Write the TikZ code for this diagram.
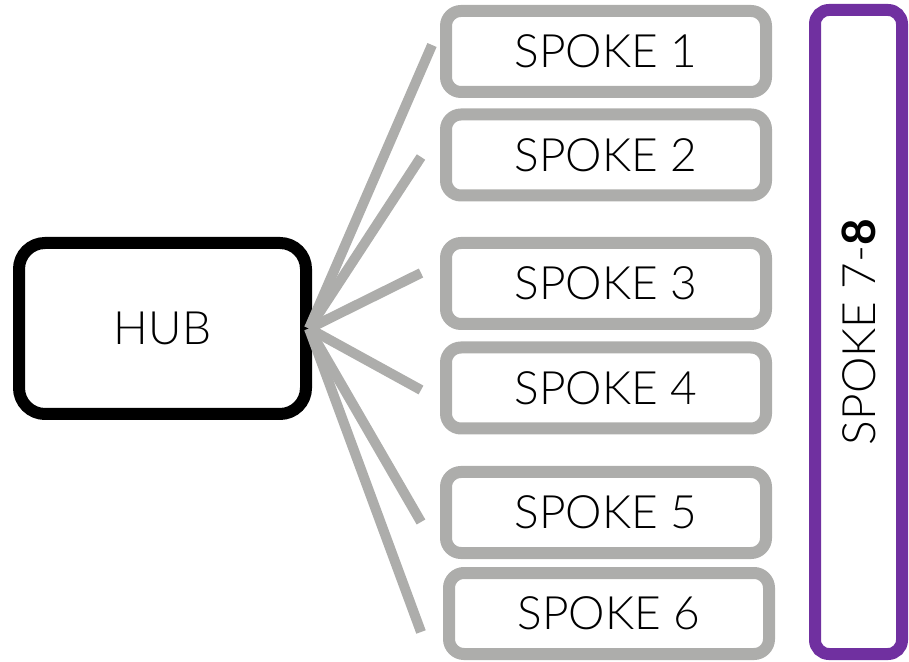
\documentclass[tikz,border=0pt]{standalone}
\usepackage{fontspec}
\setmainfont{Lato}[UprightFont=* Light, BoldFont=* Bold]
\usetikzlibrary{positioning}
\definecolor{spokegray}{RGB}{173,173,171}
\definecolor{spokepurple}{RGB}{112,48,160}
\tikzset{
  hubbox/.style={draw=black, line width=12pt, rounded corners=26pt, minimum width=287pt, minimum height=171pt, inner sep=0pt, font=\fontsize{46}{50}\selectfont},
  spokebox/.style={draw=spokegray, line width=12pt, rounded corners=15pt, minimum width=320pt, minimum height=81pt, inner sep=0pt, font=\fontsize{46}{50}\selectfont},
  groupbox/.style={draw=spokepurple, line width=12pt, rounded corners=14pt, minimum width=87pt, minimum height=644pt, inner sep=0pt},
  spokeline/.style={draw=spokegray, line width=10pt}
}
\begin{document}
\begin{tikzpicture}[x=1pt, y=1pt]
\useasboundingbox (0,0) rectangle (909,661);

\node[hubbox] (hub) at (162.5, 332.5) {HUB};

\foreach \i/\x/\y/\ex/\ey in {1/606/609.5/432/616, 2/606/506/421/504, 3/606/377.5/421/388, 4/606/273/421/271, 5/606/148.5/421/139, 6/609/47.5/421/29} {
  \node[spokebox] (spoke\i) at (\x, \y) {SPOKE \i};
  \coordinate (end\i) at (\ex, \ey);
  \draw[spokeline] ([xshift=-3pt]hub.east) -- (end\i);
}

\node[groupbox] (spoke78) at (858.5, 329) {};
\node[rotate=90, font=\fontsize{46}{50}\selectfont] (label78) at (spoke78.center) {SPOKE 7-\textbf{8}};
\end{tikzpicture}
\end{document}
